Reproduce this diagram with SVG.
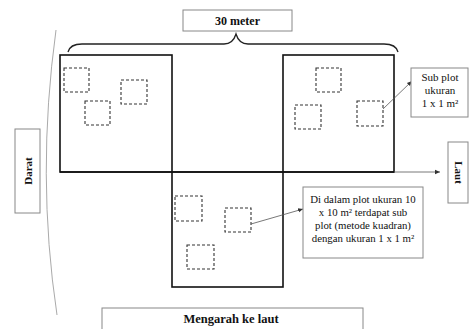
<svg xmlns="http://www.w3.org/2000/svg" width="469" height="329" viewBox="0 0 469 329">
<defs>
<style>
.plot{fill:none;stroke:#111;stroke-width:1.6}
.sub{fill:none;stroke:#333;stroke-width:1.1;stroke-dasharray:3,2}
.box{fill:#fff;stroke:#888;stroke-width:1}
.lbl{font-family:"Liberation Serif","Times New Roman",serif;fill:#111;text-anchor:middle}
.b{font-weight:bold}
.conn{fill:none;stroke:#555;stroke-width:0.8}
</style>
<marker id="ah" markerWidth="6" markerHeight="6" refX="5" refY="3" orient="auto" markerUnits="userSpaceOnUse">
<path d="M0,0.8 L5,3 L0,5.2 z" fill="#333"/>
</marker>
</defs>
<rect width="469" height="329" fill="#fff"/>
<path d="M56,30 Q36,175 57,315" fill="none" stroke="#aaa" stroke-width="1"/>
<g id="title">
<rect class="box" x="183" y="10" width="109" height="21"/>
<text class="lbl b" x="237.5" y="25" font-size="12">30 meter</text>
</g>
<path id="brace" d="M68,52 Q70,44 82,44 H224 Q233,44 236,34 Q239,44 248,44 H384 Q396,44 398,52" fill="none" stroke="#222" stroke-width="1.3"/>
<g id="plot-left">
<rect class="plot" x="60" y="55" width="112" height="117"/>
<rect class="sub" x="64" y="68" width="25" height="24"/>
<rect class="sub" x="121" y="80" width="26" height="24"/>
<rect class="sub" x="85" y="101" width="25" height="24"/>
</g>
<g id="plot-right">
<rect class="plot" x="283" y="55" width="111" height="117"/>
<rect class="sub" x="316" y="68" width="25" height="24"/>
<rect class="sub" x="295" y="105" width="26" height="24"/>
<rect class="sub" x="357" y="101" width="26" height="25"/>
</g>
<g id="plot-bottom">
<rect class="plot" x="172" y="172" width="111" height="115"/>
<rect class="sub" x="175" y="196" width="27" height="25"/>
<rect class="sub" x="225" y="208" width="26" height="24"/>
<rect class="sub" x="187" y="245" width="27" height="24"/>
</g>
<g id="connectors">
<line x1="60" y1="172" x2="394" y2="172" stroke="#111" stroke-width="1.6"/>
<line class="conn" x1="394" y1="172" x2="440" y2="172" marker-end="url(#ah)"/>
<line class="conn" x1="383" y1="109" x2="412" y2="81" marker-end="url(#ah)"/>
<line class="conn" x1="251" y1="224" x2="303" y2="209" marker-end="url(#ah)"/>
</g>
<g id="subplot-note">
<rect class="box" x="411" y="68" width="57" height="49"/>
<text class="lbl" x="440" y="81" font-size="11">Sub plot</text>
<text class="lbl" x="440" y="94" font-size="11">ukuran</text>
<text class="lbl" x="440" y="107" font-size="11">1 x 1 m²</text>
</g>
<g id="laut">
<rect class="box" x="448" y="142" width="20" height="61"/>
<text class="lbl b" x="0" y="0" font-size="11" transform="translate(455,172.5) rotate(90)">Laut</text>
</g>
<g id="darat">
<rect class="box" x="15" y="129" width="25" height="84"/>
<text class="lbl b" x="0" y="0" font-size="11" transform="translate(31.5,171) rotate(-90)">Darat</text>
</g>
<g id="desc">
<rect class="box" x="303" y="187" width="120" height="71"/>
<text class="lbl" x="363" y="203" font-size="10.8">Di dalam plot ukuran 10</text>
<text class="lbl" x="363" y="216" font-size="10.8">x 10 m² terdapat sub</text>
<text class="lbl" x="363" y="229" font-size="10.8">plot (metode kuadran)</text>
<text class="lbl" x="363" y="242" font-size="10.8">dengan ukuran 1 x 1 m²</text>
</g>
<g id="mengarah">
<rect class="box" x="102" y="308" width="261" height="25"/>
<text class="lbl b" x="231" y="323" font-size="12.5">Mengarah  ke laut</text>
</g>
</svg>
